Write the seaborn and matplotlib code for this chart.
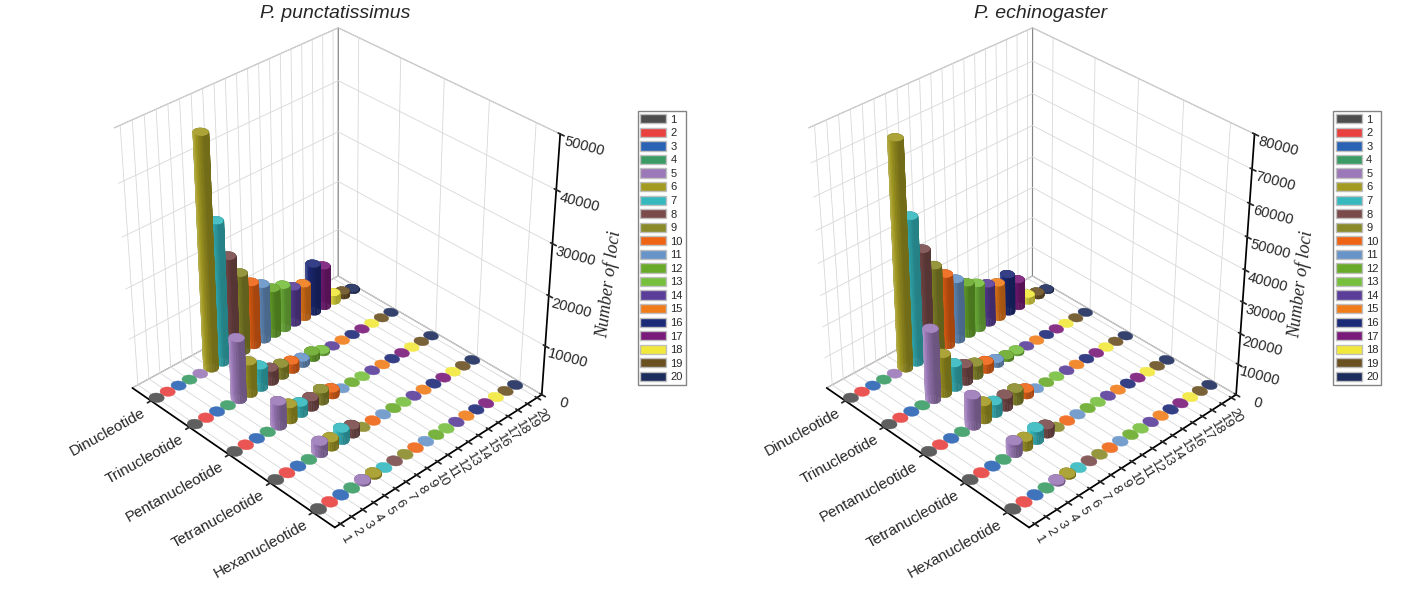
import numpy as np
import seaborn as sns
import matplotlib
matplotlib.use("Agg")
import matplotlib.pyplot as plt
from matplotlib.patches import Patch
from mpl_toolkits.mplot3d.art3d import Poly3DCollection

motifs = ["Dinucleotide", "Trinucleotide", "Pentanucleotide", "Tetranucleotide", "Hexanucleotide"]
repeats = list(range(1, 21))

# repeat-number colours (legend 1..20)
repeat_colors = ["#4d4d4d", "#e8413f", "#2a63b4", "#3a9c64", "#9b79b8",
                 "#a39a22", "#35b9bf", "#7b4b4b", "#8a8a2a", "#ef6414",
                 "#6894c8", "#6aaa2a", "#76c03e", "#5a3e9a", "#f07d1a",
                 "#1d2a78", "#7a1a7a", "#f0e83a", "#6b5022", "#1c2c5c"]

# P. punctatissimus: number of loci per repeat number 1..20
punct_di = [0, 0, 0, 0, 0, 46000, 28500, 20500, 16000, 13000, 11500, 9500, 9000, 7500, 7000, 10000, 8500, 1700, 900, 300]
punct_tri = [0, 0, 0, 0, 12500, 6600, 4500, 2800, 2400, 1800, 1200, 1300, 400, 0, 0, 0, 0, 0, 0, 0]
punct_penta = [0, 0, 0, 0, 5000, 3200, 2200, 2000, 2400, 1300, 0, 0, 0, 0, 0, 0, 0, 0, 0, 0]
punct_tetra = [0, 0, 0, 0, 2400, 1800, 2400, 1700, 0, 0, 0, 0, 0, 0, 0, 0, 0, 0, 0, 0]
punct_hexa = [0, 0, 0, 0, 300, 300, 0, 0, 0, 0, 0, 0, 0, 0, 0, 0, 0, 0, 0, 0]

# P. echinogaster
echin_di = [0, 0, 0, 0, 0, 72000, 47000, 35000, 28000, 23500, 20000, 17000, 15000, 13000, 11500, 12500, 9000, 2200, 1100, 300]
echin_tri = [0, 0, 0, 0, 23000, 13000, 8000, 5700, 4200, 2800, 1500, 800, 500, 0, 0, 0, 0, 0, 0, 0]
echin_penta = [0, 0, 0, 0, 10000, 5800, 4000, 4000, 4000, 2000, 0, 0, 0, 0, 0, 0, 0, 0, 0, 0]
echin_tetra = [0, 0, 0, 0, 4000, 3000, 4000, 2800, 0, 0, 0, 0, 0, 0, 0, 0, 0, 0, 0, 0]
echin_hexa = [0, 0, 0, 0, 400, 400, 0, 0, 0, 0, 0, 0, 0, 0, 0, 0, 0, 0, 0, 0]

sns.set_theme(style="white")
plt.rcParams["font.family"] = ["Liberation Sans", "DejaVu Sans"]
palette = sns.color_palette(repeat_colors)


def shade(rgb, f):
    rgb = np.asarray(rgb)
    if f >= 1:
        return tuple(rgb + (1 - rgb) * (f - 1))
    return tuple(rgb * f)


def cylinder_polys(x, y, h, rx, ry, color, zstep, n=28):
    t = np.linspace(0, 2 * np.pi, n + 1)
    cx, cy = x + rx * np.cos(t), y + ry * np.sin(t)
    polys, cols = [], []
    light = np.array([-0.9, 0.45])
    light = light / np.linalg.norm(light)
    if h > 0:
        levels = list(np.arange(0, h, zstep)) + [h]
        for k in range(n):
            tm = 0.5 * (t[k] + t[k + 1])
            d = max(np.cos(tm) * light[0] + np.sin(tm) * light[1], 0)
            f = 0.7 + 0.32 * d + 0.18 * d ** 10
            fc = shade(color, f)
            for z0, z1 in zip(levels[:-1], levels[1:]):
                polys.append([(cx[k], cy[k], z0), (cx[k + 1], cy[k + 1], z0),
                              (cx[k + 1], cy[k + 1], z1), (cx[k], cy[k], z1)])
                cols.append(fc)
    polys.append(list(zip(cx[:-1], cy[:-1], np.full(n, h))))
    cols.append(shade(color, 1.1))
    return polys, cols


def draw_panel(ax, table, zmax, title_x, title):
    nrow = len(motifs)
    polys, cols = [], []
    for i, vals in enumerate(table):
        y = nrow - 1 - i
        for j, v in enumerate(vals):
            p, c = cylinder_polys(repeats[j], y, v, 0.5, 0.14, palette[j], zmax / 30)
            polys += p
            cols += c
    pc = Poly3DCollection(polys, facecolors=cols, edgecolors=cols, linewidths=0.3)
    ax.add_collection3d(pc)

    ax.set_xlim(0.5, 20.5)
    ax.set_ylim(-0.5, nrow - 0.5)
    ax.set_zlim(0, zmax)
    ax.set_box_aspect((1.05, 1.07, 1.1), zoom=0.885)
    ax.view_init(elev=34, azim=-134)

    ax.set_xticks(repeats)
    ax.set_xticklabels([str(r) for r in repeats], rotation=-60, fontsize=9.5)
    ax.set_yticks(range(nrow))
    ax.set_yticklabels(motifs[::-1], rotation=29, fontsize=11, ha="right")
    zt = list(range(0, zmax + 1, 10000))
    ax.set_zticks(zt)
    ax.set_zticklabels([str(z) for z in zt], rotation=-15, fontsize=10.5)
    ax.zaxis.set_ticks_position("lower")
    ax.tick_params(axis="x", pad=-3)
    ax.tick_params(axis="y", pad=-5)

    for a in (ax.xaxis, ax.yaxis, ax.zaxis):
        a.pane.set_facecolor("white")
        a.pane.set_edgecolor("0.3")
        a.pane.set_linewidth(0.8)
        a._axinfo["grid"]["color"] = "#d8d8d8"
        a._axinfo["grid"]["linewidth"] = 0.6
        a.line.set_color("black")
    ax.grid(True)
    fig.text(title_x, 0.977, title, ha="center", va="center", fontsize=14, style="italic")


fig = plt.figure(figsize=(14.17, 5.93), dpi=100)
ax1 = fig.add_axes([0.002, 0.047, 0.46, 0.98], projection="3d", proj_type="persp", focal_length=0.65)
ax2 = fig.add_axes([0.492, 0.047, 0.46, 0.98], projection="3d", proj_type="persp", focal_length=0.65)

draw_panel(ax1, [punct_di, punct_tri, punct_penta, punct_tetra, punct_hexa], 50000, 0.2364, "P. punctatissimus")
draw_panel(ax2, [echin_di, echin_tri, echin_penta, echin_tetra, echin_hexa], 80000, 0.734, "P. echinogaster")

handles = [Patch(facecolor=palette[k], edgecolor="0.75", label=str(r)) for k, r in enumerate(repeats)]
for lx in (0.450, 0.941):
    fig.legend(handles=handles, loc="upper left", bbox_to_anchor=(lx, 0.812), fontsize=8,
               frameon=True, fancybox=False, edgecolor="0.4", handlelength=2.3, handleheight=0.9,
               labelspacing=0.28, borderpad=0.25, handletextpad=0.4, borderaxespad=0)
for lx in (0.43, 0.918):
    fig.text(lx, 0.52, "Number of loci", rotation=83, ha="center", va="center", fontsize=13,
             family=["Liberation Serif", "DejaVu Serif"], style="italic")

fig.savefig("out.png", dpi=100)
